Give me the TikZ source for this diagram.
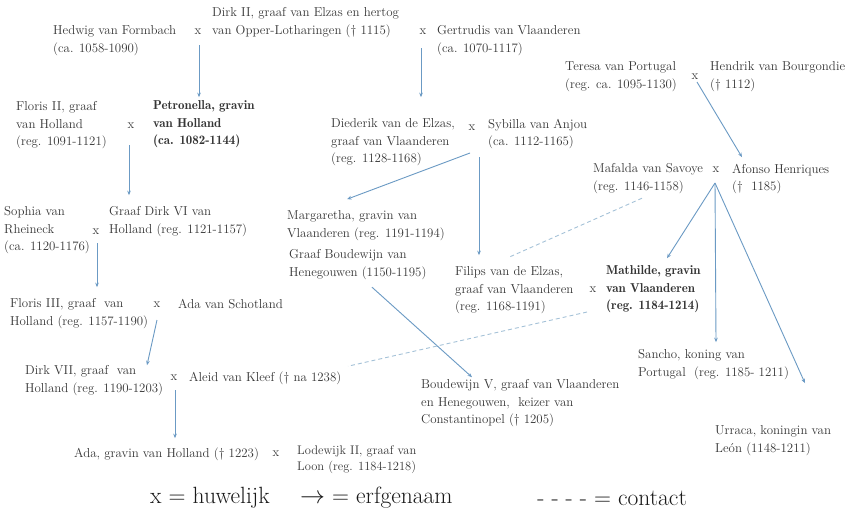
\documentclass[tikz,border=0pt]{standalone}
\usepackage{fontspec}
\newfontfamily\demifont{lmromandemi10-regular.otf}
\usetikzlibrary{arrows.meta,calc}
\definecolor{txt}{HTML}{363636}
\definecolor{arrc}{HTML}{6B9AC4}
\definecolor{dashc}{HTML}{A5C2D8}
\begin{document}
\begin{tikzpicture}[x=1pt,y=-1pt,
  person/.style={anchor=north west, yshift=6.3pt, inner sep=0pt, align=left, text=txt, font=\fontsize{12.9}{17.3}\selectfont},
  boldperson/.style={person, font=\fontsize{12.9}{17.3}\selectfont\demifont},
  smallperson/.style={person, font=\fontsize{12.5}{15.5}\selectfont},
  marr/.style={inner sep=0pt, text=txt, font=\fontsize{12.9}{17}\selectfont},
  arr/.style={draw=arrc, line width=0.9pt, -{Stealth[length=4.5pt,width=3.6pt]}},
  contact/.style={draw=dashc, line width=0.9pt, dash pattern=on 4pt off 3pt},
  legend/.style={inner sep=0pt, text=black!90, font=\fontsize{23.5}{26}\selectfont}]
\useasboundingbox (0,0) rectangle (850,514);
\fill[white] (0,0) rectangle (850,514);

% generation 1
\node[person] (hedwig) at (53,32) {Hedwig van Formbach\\(ca. 1058-1090)};
\node[marr] (m1) at (198,32) {x};
\node[person] (dirk2) at (212,14) {Dirk II, graaf van Elzas en hertog\\van Opper-Lotharingen († 1115)};
\node[marr] (m2) at (423,32) {x};
\node[person] (gert) at (437,32) {Gertrudis van Vlaanderen\\(ca. 1070-1117)};
\node[person] (teresa) at (565,68) {Teresa van Portugal\\(reg. ca. 1095-1130)};
\node[marr] (m5) at (695,77) {x};
\node[person] (hendrik) at (710,68) {Hendrik van Bourgondie\\(† 1112)};

% generation 2
\node[person] (floris2) at (16,108) {Floris II, graaf\\van Holland\\(reg. 1091-1121)};
\node[marr] (m3) at (131,126) {x};
\node[boldperson] (petr) at (153,107) {Petronella, gravin\\van Holland\\(ca. 1082-1144)};
\node[person] (died) at (331,125) {Diederik van de Elzas,\\graaf van Vlaanderen\\(reg. 1128-1168)};
\node[marr] (m4) at (472,128) {x};
\node[person] (sybilla) at (488,125) {Sybilla van Anjou\\(ca. 1112-1165)};
\node[person] (mafalda) at (593,170) {Mafalda van Savoye\\(reg. 1146-1158)};
\node[marr] (m6) at (716,170) {x};
\node[person] (afonso) at (732,170) {Afonso Henriques\\(†\ \ 1185)};

% generation 3
\node[person] (sophia) at (4,213) {Sophia van\\Rheineck\\(ca. 1120-1176)};
\node[marr] (m7) at (96,232) {x};
\node[person] (dirk6) at (109,213) {Graaf Dirk VI van\\Holland (reg. 1121-1157)};
\node[person] (marg) at (287,217) {Margaretha, gravin van\\Vlaanderen (reg. 1191-1194)};
\node[person] (boud) at (289,256) {Graaf Boudewijn van\\Henegouwen (1150-1195)};
\node[person] (filips) at (455,273) {Filips van de Elzas,\\graaf van Vlaanderen\\(reg. 1168-1191)};
\node[marr] (m8) at (593,290) {x};
\node[boldperson] (math) at (606,272) {Mathilde, gravin\\van Vlaanderen\\(reg. 1184-1214)};
\node[person] (sancho) at (638,356) {Sancho, koning van\\Portugal\ \ (reg. 1185- 1211)};
\node[person] (urraca) at (715,432) {Urraca, koningin van\\León (1148-1211)};

% generation 4+
\node[person] (floris3) at (10,305) {Floris III, graaf\ \ van\\Holland (reg. 1157-1190)};
\node[marr] (m9) at (157,305) {x};
\node[person] (adas) at (178,305) {Ada van Schotland};
\node[person] (dirk7) at (25,372) {Dirk VII, graaf\ \ van\\Holland (reg. 1190-1203)};
\node[marr] (m10) at (174,378) {x};
\node[person] (aleid) at (189,378) {Aleid van Kleef († na 1238)};
\node[person] (boud5) at (421,386) {Boudewijn V, graaf van Vlaanderen\\en Henegouwen,\ \ keizer van\\Constantinopel († 1205)};
\node[person] (adah) at (74,454) {Ada, gravin van Holland († 1223)};
\node[marr] (m11) at (276,454) {x};
\node[smallperson] (lodew) at (297,452) {Lodewijk II, graaf van\\Loon (reg. 1184-1218)};

% heirs
\draw[arr] ($(m1)+(1,13)$) -- ($(petr.north west)+(46,-3.5)$);
\draw[arr] ($(m2)+(-2,16)$) -- ($(died.north west)+(90,-21.5)$);
\draw[arr] ($(m3)+(-2,19)$) -- ($(dirk6.north west)+(20,-11.5)$);
\draw[arr] ($(m7)+(1,11)$) -- ($(floris3.north west)+(87,-11.5)$);
\draw[arr] ($(m9)+(0,15)$) -- ($(dirk7.north west)+(122,-0.5)$);
\draw[arr] ($(m10)+(1,12)$) -- ($(adah.north west)+(101,-9.5)$);
\draw[arr] ($(m4)+(-2,25)$) -- ($(marg.north west)+(60,-11.5)$);
\draw[arr] ($(m4)+(7,29)$) -- ($(filips.north west)+(24,-11.5)$);
\draw[arr] ($(m5)+(2,5)$) -- ($(afonso.north west)+(10,-6.5)$);
\coordinate (fan) at ($(m6)+(-1,13)$);
\draw[arr] (fan) -- ($(math.north west)+(61,-7.5)$);
\draw[arr] (fan) -- ($(sancho.north west)+(78,-7.5)$);
\draw[arr] (fan) -- ($(urraca.north west)+(90,-42.5)$);
\draw[arr] ($(boud.north west)+(83,37.5)$) -- ($(boud5.north west)+(51,-2.5)$);

% contacts
\draw[contact] ($(mafalda.north west)+(49,34.5)$) -- ($(filips.north west)+(54,-9.5)$);
\coordinate (aleidend) at ($(aleid.north west)+(159,-5.5)$);
\draw[contact] ($(m8)+(-6,22)$) -- (aleidend);

% legend
\node[legend, anchor=west] (leg1) at (150,498) {x = huwelijk};
\node[legend, anchor=west] (leg2) at (300,498) {$\rightarrow$ = erfgenaam};
\node[legend, anchor=east] (leg3) at (687,498) {- - - - = contact};
\end{tikzpicture}
\end{document}
